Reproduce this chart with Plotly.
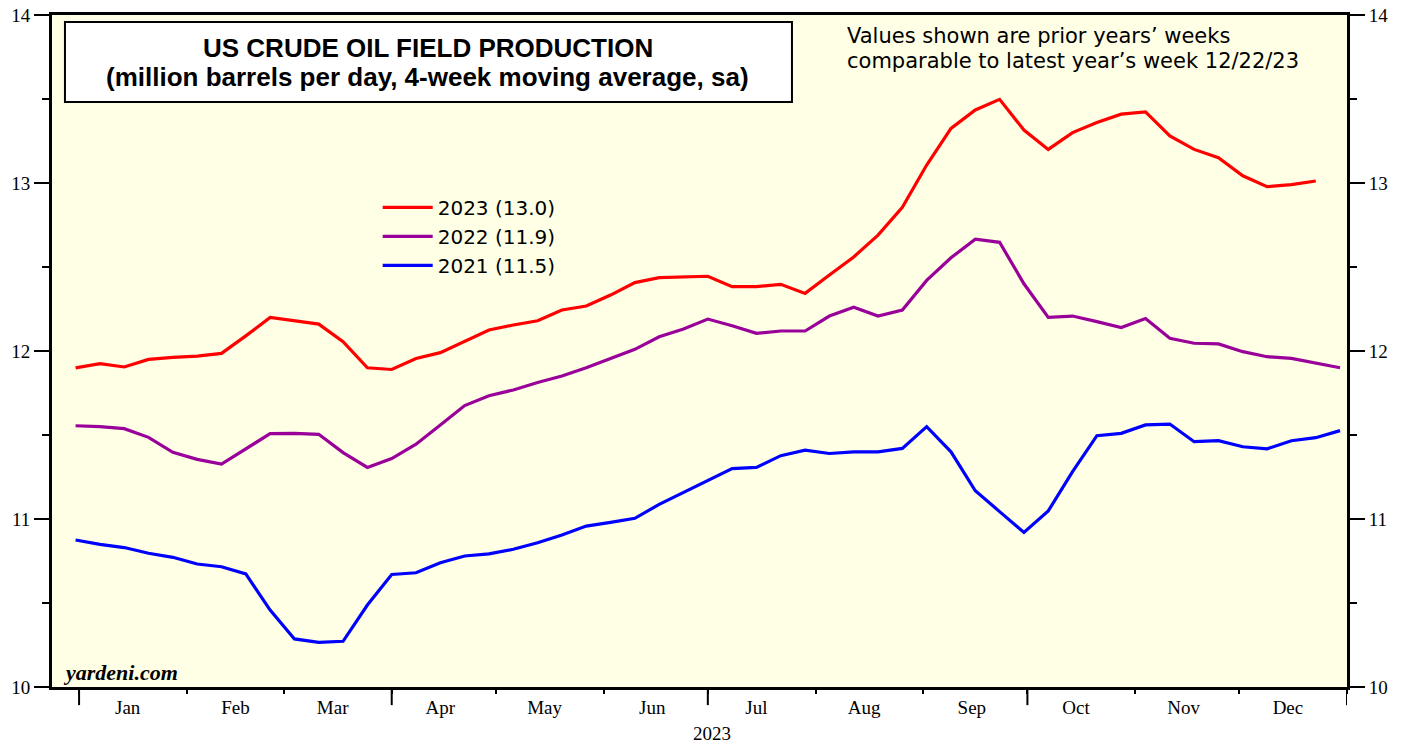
import plotly.graph_objects as go
import pandas as pd

# ---------------- data ----------------
weeks_2023 = pd.date_range("2022-12-31", periods=52, freq="7D")
weeks_prior = pd.date_range("2022-12-31", periods=53, freq="7D")

prod_2023 = [11.90, 11.925, 11.905, 11.95, 11.962, 11.97, 11.986, 12.09, 12.20, 12.18,
             12.16, 12.055, 11.90, 11.89, 11.955, 11.99, 12.055, 12.125, 12.155, 12.18,
             12.244, 12.268, 12.333, 12.407, 12.437, 12.44, 12.445, 12.383, 12.383, 12.397,
             12.343, 12.452, 12.56, 12.69, 12.855, 13.107, 13.325, 13.435, 13.498, 13.315,
             13.20, 13.30, 13.36, 13.41, 13.423, 13.28, 13.20, 13.151, 13.043, 12.978,
             12.99, 13.012]

prod_2022 = [11.555, 11.55, 11.538, 11.486, 11.397, 11.355, 11.327, 11.415, 11.508, 11.51,
             11.504, 11.395, 11.307, 11.36, 11.445, 11.56, 11.675, 11.734, 11.768, 11.813,
             11.851, 11.90, 11.954, 12.01, 12.085, 12.131, 12.19, 12.15, 12.105, 12.119,
             12.119, 12.208, 12.26, 12.208, 12.244, 12.42, 12.555, 12.665, 12.647, 12.40,
             12.20, 12.208, 12.175, 12.14, 12.193, 12.076, 12.046, 12.042, 11.996, 11.966,
             11.956, 11.926, 11.90]

prod_2021 = [10.875, 10.849, 10.83, 10.796, 10.772, 10.732, 10.716, 10.673, 10.458, 10.286,
             10.266, 10.272, 10.488, 10.67, 10.68, 10.74, 10.78, 10.792, 10.82, 10.859,
             10.905, 10.958, 10.98, 11.004, 11.087, 11.157, 11.225, 11.30, 11.307, 11.377,
             11.41, 11.39, 11.40, 11.40, 11.42, 11.55, 11.40, 11.168, 11.044, 10.92,
             11.048, 11.282, 11.496, 11.51, 11.56, 11.565, 11.46, 11.466, 11.43, 11.418,
             11.466, 11.484, 11.526]

series_names = ["2023 (13.0)", "2022 (11.9)", "2021 (11.5)"]
series_colors = ["#FF0000", "#990099", "#0000FF"]

month_labels = ["Jan", "Feb", "Mar", "Apr", "May", "Jun",
                "Jul", "Aug", "Sep", "Oct", "Nov", "Dec"]
month_starts = pd.date_range("2023-01-01", "2024-01-01", freq="MS")
month_mids = [d + pd.Timedelta(days=14) for d in month_starts[:-1]]
quarter_starts = ["2023-01-01", "2023-04-01", "2023-07-01", "2023-10-01", "2024-01-01"]
y_ticks = [10, 11, 12, 13, 14]

# ---------------- figure ----------------
fig = go.Figure()
for name, xs, ys, col in zip(series_names,
                              [weeks_2023, weeks_prior, weeks_prior],
                              [prod_2023, prod_2022, prod_2021],
                              series_colors):
    fig.add_trace(go.Scatter(x=xs, y=ys, mode="lines", name=name, legendgroup=name,
                             line=dict(color=col, width=3.2)))

# invisible helper trace so the right-hand axis is drawn
fig.add_trace(go.Scatter(x=weeks_prior, y=prod_2021, yaxis="y2", mode="lines",
                         line=dict(width=0, color="rgba(0,0,0,0)"),
                         showlegend=False, hoverinfo="skip"))

serif = "Liberation Serif, Times New Roman, serif"
sans = "Liberation Sans, Arial, sans-serif"
dvs = "DejaVu Sans, sans-serif"

yax = dict(range=[10, 14], tickmode="array", tickvals=y_ticks, automargin=False,
           ticks="outside", ticklen=15, tickwidth=2, tickcolor="black",
           showline=True, linewidth=3, linecolor="black",
           showgrid=False, zeroline=False,
           tickfont=dict(family=serif, size=19, color="black"),
           minor=dict(tick0=10, dtick=0.5, ticks="outside", ticklen=7,
                      tickwidth=2, tickcolor="black", showgrid=False))

fig.update_layout(
    width=1407, height=744,
    margin=dict(l=52, r=60, t=15, b=57),
    paper_bgcolor="white", plot_bgcolor="#FFFFE5",
    showlegend=True,
    legend=dict(x=0.2515, y=0.7426, xanchor="left", yanchor="top",
                bgcolor="rgba(0,0,0,0)", borderwidth=0,
                font=dict(family=dvs, size=20, color="black"),
                tracegroupgap=0, itemwidth=50, traceorder="normal"),
    xaxis=dict(type="date", range=["2022-12-24 05:00", "2024-01-01"], automargin=False,
               tickmode="array", tickvals=month_mids, ticktext=month_labels,
               ticks="outside", ticklen=1, tickcolor="rgba(0,0,0,0)",
               tickfont=dict(family=serif, size=19, color="black"),
               showline=True, linewidth=3, linecolor="black", mirror=True,
               showgrid=False, zeroline=False,
               minor=dict(tickmode="array", tickvals=list(month_starts),
                          ticks="outside", ticklen=4, tickwidth=2,
                          tickcolor="black", showgrid=False)),
    yaxis=yax,
    yaxis2=dict(yax, overlaying="y", side="right", matches="y"),
)

# long quarter ticks below x axis
for q in quarter_starts:
    fig.add_shape(type="line", xref="x", yref="paper", x0=q, x1=q, y0=0, y1=-0.027,
                  line=dict(color="black", width=2))

# title box
fig.add_shape(type="rect", xref="paper", yref="paper", x0=0.010, x1=0.5714,
              y0=0.8705, y1=0.9896, fillcolor="white", line=dict(color="black", width=2))
fig.add_annotation(xref="paper", yref="paper", x=0.2903, y=0.951, showarrow=False,
                   xanchor="center", yanchor="middle",
                   text="<b>US CRUDE OIL FIELD PRODUCTION</b>",
                   font=dict(family=sans, size=26, color="black"))
fig.add_annotation(xref="paper", yref="paper", x=0.2903, y=0.9076, showarrow=False,
                   xanchor="center", yanchor="middle",
                   text="<b>(million barrels per day, 4-week moving average, sa)</b>",
                   font=dict(family=sans, size=26, color="black"))

# note
fig.add_annotation(xref="paper", yref="paper", x=0.6124, y=0.969, showarrow=False,
                   xanchor="left", yanchor="middle",
                   text="Values shown are prior years\u2019 weeks",
                   font=dict(family=dvs, size=21, color="black"))
fig.add_annotation(xref="paper", yref="paper", x=0.6124, y=0.931, showarrow=False,
                   xanchor="left", yanchor="middle",
                   text="comparable to latest year\u2019s week 12/22/23",
                   font=dict(family=dvs, size=21, color="black"))

# source
fig.add_annotation(xref="paper", yref="paper", x=0.007, y=0.0223, showarrow=False,
                   xanchor="left", yanchor="middle",
                   text="<b><i>yardeni.com</i></b>",
                   font=dict(family=serif, size=22, color="black"))

# year label under axis
fig.add_annotation(xref="paper", yref="paper", x=0.5097, y=-0.0685, showarrow=False,
                   xanchor="center", yanchor="middle", text="2023",
                   font=dict(family=serif, size=19, color="black"))

fig.write_html("out.html", config={"displayModeBar": False},
               post_script="document.body.style.margin='0';"
                           "document.body.style.overflow='hidden';")
